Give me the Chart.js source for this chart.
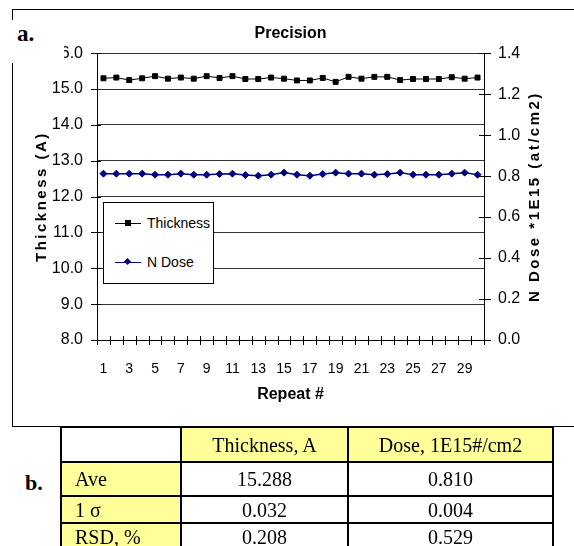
<!DOCTYPE html>
<html><head><meta charset="utf-8">
<script src="https://cdn.jsdelivr.net/npm/chart.js@4/dist/chart.umd.min.js"></script>
<style>
html,body{margin:0;padding:0;background:#fff;}
#page{position:relative;width:574px;height:546px;overflow:hidden;background:#fff;}
#frame{position:absolute;left:12px;top:9px;width:640px;height:416px;border-top:1px solid #000;border-left:1px solid #000;border-bottom:1px solid #000;}
#chartBox{position:absolute;left:0;top:0;width:574px;height:430px;}
#amask{position:absolute;left:0;top:20px;width:64px;height:43px;background:#fff;}
.lbl{position:absolute;font-family:'Liberation Serif','Times New Roman',serif;font-weight:bold;font-size:23px;line-height:1;color:#000;}
#legend{position:absolute;left:103px;top:202px;width:109px;height:80px;border:1px solid #000;background:#fff;}
.litem{position:absolute;left:0;width:109px;height:20px;}
.lline{position:absolute;left:11px;top:10px;width:26px;height:1px;}
.lmark{position:absolute;}
.ltext{position:absolute;left:43px;top:0;font-family:'Liberation Sans',Arial,sans-serif;font-size:14px;line-height:20px;color:#000;white-space:nowrap;}
#stats{position:absolute;left:60px;top:426px;border-collapse:collapse;font-family:'Liberation Serif','Times New Roman',serif;font-size:20px;color:#000;}
#stats td{border:2px solid #000;padding:0;text-align:center;vertical-align:middle;line-height:22px;}
#stats td.y{background:#ffff99;}
#stats td.rl{text-align:left;padding-left:13px;}
</style></head>
<body>
<div id="page">
  <div id="frame"></div>
  <div id="chartBox"><canvas id="c" width="574" height="430"></canvas></div>
  <div id="amask"></div>
  <div class="lbl" style="left:17px;top:22px;">a.</div>
  <div id="legend"></div>
  <div class="lbl" style="left:25px;top:472px;font-size:22px;">b.</div>
  <table id="stats"></table>
</div>
<script>
// ---- data ----
const repeats = ['1','2','3','4','5','6','7','8','9','10','11','12','13','14','15','16','17','18','19','20','21','22','23','24','25','26','27','28','29','30'];
const thickness = [15.30,15.32,15.25,15.30,15.36,15.29,15.32,15.29,15.36,15.31,15.36,15.28,15.28,15.32,15.29,15.24,15.24,15.31,15.20,15.34,15.29,15.34,15.34,15.25,15.28,15.28,15.28,15.33,15.29,15.32];
const nDose = [0.812,0.812,0.812,0.812,0.807,0.807,0.812,0.807,0.807,0.810,0.812,0.805,0.802,0.807,0.817,0.807,0.802,0.810,0.817,0.812,0.812,0.807,0.810,0.817,0.807,0.807,0.807,0.812,0.817,0.807];
const leftTicks = {min:8, max:16, step:1};
const rightTicks = {min:0, max:1.4, step:0.2};
const tableHeaders = ['', 'Thickness, A', 'Dose, 1E15#/cm2'];
const statLabels = ['Ave', '1 \u03C3', 'RSD, %'];
const thicknessStats = ['15.288', '0.032', '0.208'];
const doseStats = ['0.810', '0.004', '0.529'];

const SANS = "'Liberation Sans',Arial,sans-serif";

function spacedTitle(){
  const t = this.options.title;
  if (!t.display) return;
  const ctx = this.ctx;
  const f = Chart.helpers.toFont(t.font);
  ctx.save();
  ctx.font = f.string;
  ctx.fillStyle = t.color;
  ctx.textAlign = 'center';
  ctx.textBaseline = 'middle';
  if ('letterSpacing' in ctx) ctx.letterSpacing = '2.5px';
  const cy = (this.top + this.bottom) / 2;
  const cx = this.position === 'left' ? this.left + 42 : this.right - 39;
  ctx.translate(cx, cy);
  ctx.rotate(-Math.PI / 2);
  ctx.fillText(t.text, 0, 0);
  ctx.restore();
}
const patchTitles = {
  id: 'patchTitles',
  afterLayout(chart){
    chart.scales.y.drawTitle = spacedTitle;
    chart.scales.y1.drawTitle = spacedTitle;
  }
};
const crossTicks = {
  id: 'crossTicks',
  afterDraw(chart){
    const {ctx, chartArea: a, scales: {x, y, y1}} = chart;
    ctx.save();
    ctx.strokeStyle = '#000';
    ctx.lineWidth = 1;
    ctx.beginPath();
    const n = x.getLabels().length;
    const half = (x.getPixelForValue(1) - x.getPixelForValue(0)) / 2;
    for (let i = 0; i <= n; i++) {
      const px = Math.round(x.getPixelForValue(0) - half + i * 2 * half) + 0.5;
      ctx.moveTo(px, a.bottom - 4); ctx.lineTo(px, a.bottom + 5);
    }
    y.ticks.forEach(t => {
      const py = Math.round(y.getPixelForValue(t.value)) + 0.5;
      ctx.moveTo(a.left - 6, py); ctx.lineTo(a.left + 4, py);
    });
    y1.ticks.forEach(t => {
      const py = Math.round(y1.getPixelForValue(t.value)) + 0.5;
      ctx.moveTo(a.right - 5, py); ctx.lineTo(a.right + 7, py);
    });
    ctx.stroke();
    ctx.restore();
  }
};

const chart = new Chart(document.getElementById('c'), {
  type: 'line',
  data: {
    labels: repeats,
    datasets: [
      {label: 'Thickness', data: thickness, yAxisID: 'y', borderColor: '#000', backgroundColor: '#000',
       borderWidth: 1, pointStyle: 'rect', pointRadius: 3.5, pointBorderWidth: 1, pointBorderColor: '#000', pointBackgroundColor: '#000', tension: 0},
      {label: 'N Dose', data: nDose, yAxisID: 'y1', borderColor: '#000080', backgroundColor: '#000080',
       borderWidth: 1.5, pointStyle: 'rectRot', pointRadius: 3.5, pointBorderWidth: 1, pointBorderColor: '#000080', pointBackgroundColor: '#000080', tension: 0}
    ]
  },
  options: {
    responsive: false, animation: false, devicePixelRatio: 1,
    layout: {padding: 0},
    plugins: {
      legend: {display: false},
      tooltip: {enabled: false},
      title: {display: true, text: 'Precision', color: '#000', fullSize: false,
              font: {family: SANS, size: 16, weight: 'bold'}, padding: {top: 24, bottom: 10}}
    },
    scales: {
      x: {
        type: 'category', offset: true,
        grid: {display: false, offset: true},
        border: {display: true, color: '#000', width: 1},
        ticks: {autoSkip: false, maxRotation: 0, minRotation: 0, padding: 13, color: '#000',
                font: {family: SANS, size: 14},
                callback(v, i){ return i % 2 === 0 ? this.getLabelForValue(v) : ''; }},
        title: {display: true, text: 'Repeat #', color: '#000', font: {family: SANS, size: 16, weight: 'bold'}, padding: {top: 0, bottom: 26}},
        afterFit(s){ s.height = 90; }
      },
      y: {
        position: 'left', min: leftTicks.min, max: leftTicks.max,
        ticks: {stepSize: leftTicks.step, padding: 14, color: '#000', font: {family: SANS, size: 16},
                callback: v => Number(v).toFixed(1)},
        grid: {color: '#333', drawTicks: false},
        border: {color: '#000'},
        title: {display: true, text: 'Thickness (A)', color: '#000', font: {family: SANS, size: 15, weight: 'bold'}},
        afterFit(s){ s.width = 97; }
      },
      y1: {
        position: 'right', min: rightTicks.min, max: rightTicks.max,
        ticks: {stepSize: rightTicks.step, padding: 14, color: '#000', font: {family: SANS, size: 16},
                callback: v => Number(v).toFixed(1)},
        grid: {drawOnChartArea: false, drawTicks: false},
        border: {color: '#000'},
        title: {display: true, text: 'N Dose *1E15 (at/cm2)', color: '#000', font: {family: SANS, size: 15, weight: 'bold'}},
        afterFit(s){ s.width = 90; }
      }
    }
  },
  plugins: [patchTitles, crossTicks]
});

// ---- HTML legend from datasets ----
const legend = document.getElementById('legend');
const itemTops = [10, 49];
chart.data.datasets.forEach((ds, i) => {
  const it = document.createElement('div');
  it.className = 'litem';
  it.style.top = itemTops[i] + 'px';
  const ln = document.createElement('div');
  ln.className = 'lline';
  ln.style.background = ds.borderColor;
  it.appendChild(ln);
  const mk = document.createElement('div');
  mk.className = 'lmark';
  if (ds.pointStyle === 'rect') {
    mk.style.cssText = 'left:21px;top:7px;width:6px;height:6px;background:' + ds.pointBackgroundColor + ';';
  } else {
    mk.style.cssText = 'left:21px;top:7px;width:5px;height:5px;transform:rotate(45deg);background:' + ds.pointBackgroundColor + ';';
  }
  it.appendChild(mk);
  const tx = document.createElement('div');
  tx.className = 'ltext';
  tx.textContent = ds.label;
  it.appendChild(tx);
  legend.appendChild(it);
});

// ---- table ----
const table = document.getElementById('stats');
const colW = [120, 167, 205];
const rowH = [35, 34, 27, 27];
let html = '<tr>';
tableHeaders.forEach((h, j) => {
  html += '<td class="' + (j > 0 ? 'y' : '') + '" style="width:' + (colW[j] - 2) + 'px;height:' + (rowH[0] - 2) + 'px;">' + h + '</td>';
});
html += '</tr>';
statLabels.forEach((lab, r) => {
  html += '<tr style="height:' + rowH[r + 1] + 'px;">';
  html += '<td class="y rl" style="height:' + (rowH[r + 1] - 2) + 'px;">' + lab + '</td>';
  html += '<td>' + thicknessStats[r] + '</td>';
  html += '<td>' + doseStats[r] + '</td>';
  html += '</tr>';
});
table.innerHTML = html;
</script>
</body></html>
